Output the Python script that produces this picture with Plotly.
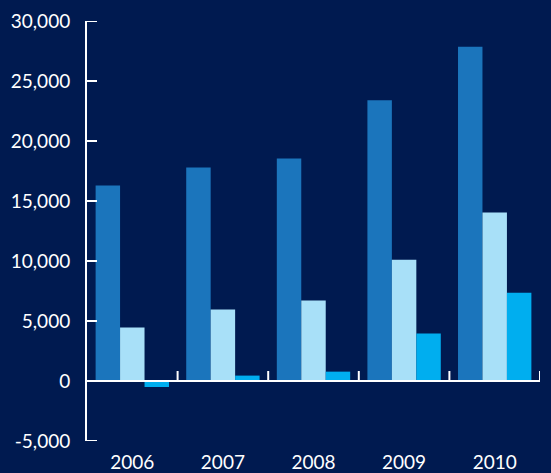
import plotly.graph_objects as go

years = ["2006", "2007", "2008", "2009", "2010"]
series_a = [16300, 17800, 18550, 23400, 27850]
series_b = [4450, 5950, 6700, 10100, 14050]
series_c = [-500, 450, 780, 3950, 7350]

y_ticks = [-5000, 0, 5000, 10000, 15000, 20000, 25000, 30000]
y_labels = ["-5,000", "0", "5,000", "10,000", "15,000", "20,000", "25,000", "30,000"]

BG = "#001a50"
Y_MIN, Y_MAX = -5000, 30000

fig = go.Figure()
for name, vals, color in [
    ("a", series_a, "#1b75bc"),
    ("b", series_b, "#a8e0f8"),
    ("c", series_c, "#00aeef"),
]:
    fig.add_trace(go.Bar(x=years, y=vals, name=name, marker_color=color,
                         marker_line_width=0, showlegend=False))

# zero line with small upward ticks between the year groups
fig.add_hline(y=0, line_color="white", line_width=2)
for i in range(len(years)):
    fig.add_shape(type="line", xref="x", yref="y", x0=i + 0.5, x1=i + 0.5,
                  ysizemode="pixel", yanchor=0, y0=0, y1=10,
                  line=dict(color="white", width=2))

# inward tick marks on the value axis
for v in y_ticks:
    fig.add_shape(type="line", xref="x domain", yref="y", xsizemode="pixel",
                  xanchor=0, x0=0, x1=10, y0=v, y1=v,
                  line=dict(color="white", width=2))

fig.update_layout(
    width=551, height=473,
    paper_bgcolor=BG, plot_bgcolor=BG,
    margin=dict(l=87, r=11, t=21, b=32),
    barmode="group", bargap=0.19, bargroupgap=0,
    font=dict(family="Lato, sans-serif", color="white", size=18),
    xaxis=dict(showline=False, ticks="", showgrid=False, zeroline=False,
               range=[-0.5, 4.5], automargin=False, ticklabelstandoff=8,
               tickfont=dict(size=19)),
    yaxis=dict(range=[Y_MIN, Y_MAX], tickvals=y_ticks, ticktext=y_labels,
               showline=True, linecolor="white", linewidth=2,
               ticks="", showgrid=False, zeroline=False, ticklabelstandoff=11,
               automargin=False, tickfont=dict(size=19)),
)

fig.write_html("out.html", config={"displayModeBar": False},
               post_script="document.body.style.margin='0';document.body.style.background='#001a50';")
